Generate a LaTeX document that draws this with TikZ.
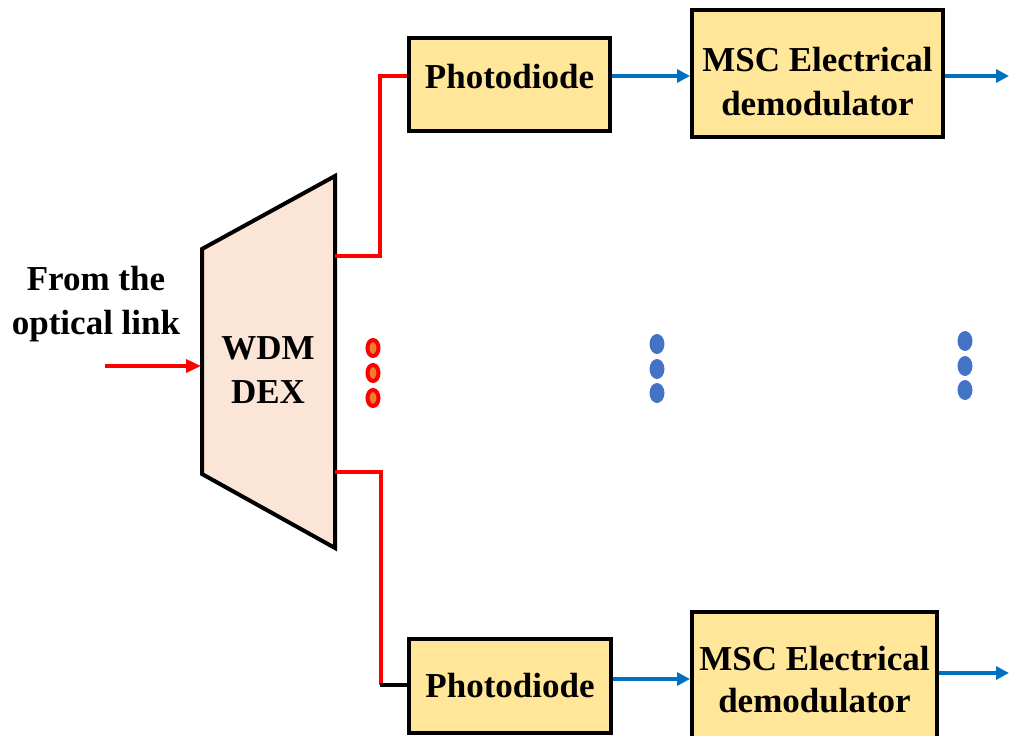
\documentclass[tikz,border=0pt]{standalone}
\usepackage{fontspec}
\setmainfont{Liberation Serif}
\usetikzlibrary{arrows.meta,shapes.geometric}
\definecolor{boxfill}{HTML}{FFE699}
\definecolor{wdmfill}{HTML}{FBE5D6}
\definecolor{blueline}{HTML}{0070C0}
\definecolor{bluedot}{HTML}{4472C4}
\definecolor{orangedot}{HTML}{ED7D31}
\tikzset{
  blk/.style={draw=black, line width=4pt, fill=boxfill, rectangle, inner sep=0pt,
    font=\fontsize{35}{42}\selectfont\bfseries, align=center},
  lbl/.style={font=\fontsize{35}{44}\selectfont\bfseries, align=center, inner sep=0pt},
  redln/.style={draw=red, line width=3.5pt},
  bluearr/.style={draw=blueline, line width=3.5pt, -{Triangle[length=13pt,width=13pt]}},
  redarr/.style={draw=red, line width=3.5pt, -{Triangle[length=15pt,width=13pt]}},
  rdot/.style={ellipse, draw=red, line width=4pt, fill=orangedot, minimum width=11pt, minimum height=16pt, inner sep=0pt},
  bdot/.style={ellipse, fill=bluedot, minimum width=15pt, minimum height=20pt, inner sep=0pt},
}
\begin{document}
\begin{tikzpicture}[x=1pt,y=-1pt]
\useasboundingbox (0,0) rectangle (1009,736);
% WDM trapezoid
\draw[line width=4pt, fill=wdmfill, line join=miter] (202,249) -- (335,176) -- (335,548) -- (202,474) -- cycle;
\node[lbl] (wdm) at (268,370) {WDM\\DEX};
\coordinate (win) at (201,366);
\coordinate (w1) at (335,256);
\coordinate (w2) at (335,472);
\coordinate (src) at (105,366);
\node[lbl] (from) at (96,304) {From the\\optical link};
% boxes
\node[blk, minimum width=201pt, minimum height=93pt, text height=25pt, text depth=18pt] (pd1) at (509.5,84.5) {Photodiode};
\node[blk, minimum width=251pt, minimum height=127pt,
  label={[lbl, yshift=-8pt]center:{MSC Electrical\\demodulator}}] (msc1) at (817.5,73.5) {};
\node[blk, minimum width=202pt, minimum height=94pt] (pd2) at (510,686) {Photodiode};
\node[blk, minimum width=245pt, minimum height=136pt] (msc2) at (814.5,680) {MSC Electrical\\demodulator};
\coordinate (out1) at (1009,76);
\coordinate (out2) at (1009,673);
% connectors
\draw[redarr] (src) -- (win);
\draw[redln] (w1) -- (380,256) -- (380,76) -- (pd1.west |- 0,76);
\draw[redln] (w2) -- (381,472) -- (381,685);
\draw[line width=3.5pt] (380,685) -- (pd2.west |- 0,685);
\draw[bluearr] (pd1.east |- 0,76) -- (msc1.west |- 0,76);
\draw[bluearr] (msc1.east |- 0,76) -- (out1);
\draw[bluearr] (pd2.east |- 0,679) -- (msc2.west |- 0,679);
\draw[bluearr] (msc2.east |- 0,673) -- (out2);
% dots
\node[rdot] (r1) at (373,348) {};
\node[rdot] (r2) at (373,373) {};
\node[rdot] (r3) at (373,398) {};
\node[bdot] (b1) at (657,344) {};
\node[bdot] (b2) at (657,369) {};
\node[bdot] (b3) at (657,393) {};
\node[bdot] (c1) at (965,341) {};
\node[bdot] (c2) at (965,366) {};
\node[bdot] (c3) at (965,390) {};
\end{tikzpicture}
\end{document}
